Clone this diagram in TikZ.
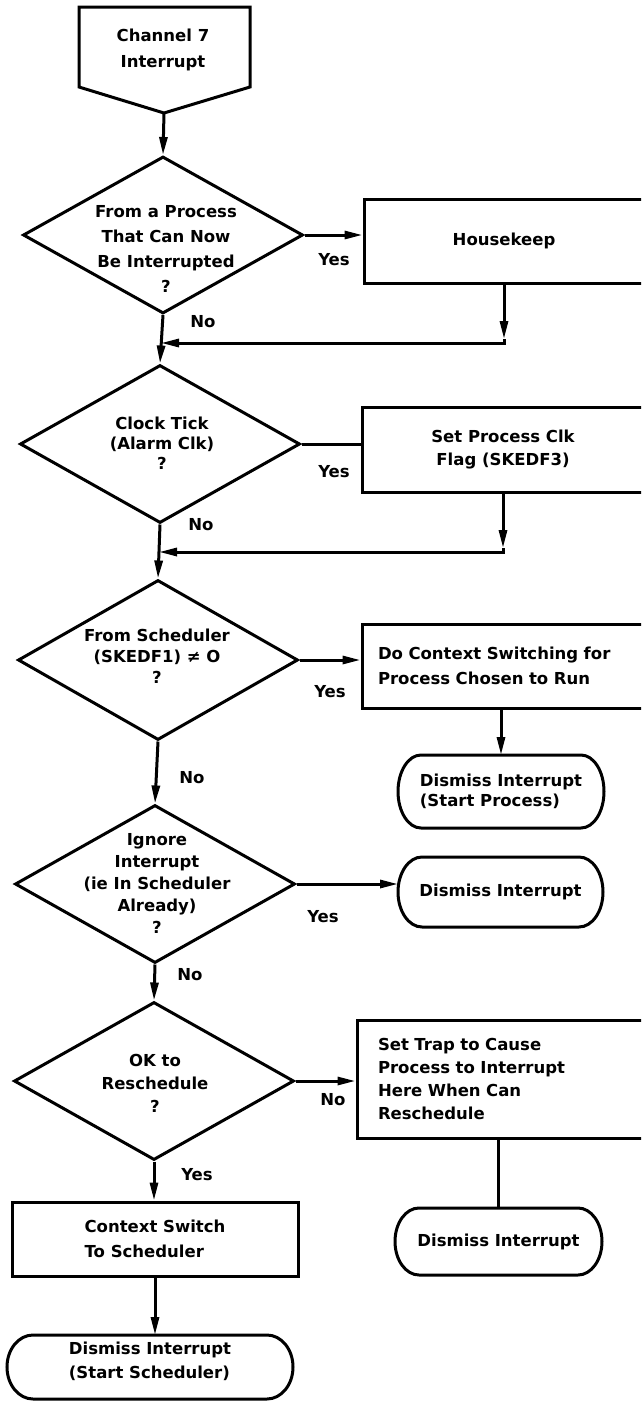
\documentclass[tikz,border=0pt]{standalone}
\usepackage{fontspec}
\setmainfont{DejaVu Sans}
\usetikzlibrary{arrows.meta,shapes.geometric,calc}
\newcommand{\lsp}[1]{\fontsize{16.5}{#1}\selectfont}
% outline of a terminal node: straight top and bottom, half-ellipse ends
% #1 node name, #2 depth of the end curve, #3 half of the node height
\newcommand{\termoutline}[3]{%
  \draw[line] ($(#1.north west)+(#2pt,0)$) -- ($(#1.north east)+(-#2pt,0)$)
    arc[start angle=90,end angle=-90,x radius=#2pt,y radius=#3pt]
    -- ($(#1.south west)+(#2pt,0)$)
    arc[start angle=270,end angle=90,x radius=#2pt,y radius=#3pt] -- cycle;}

\begin{document}
\begin{tikzpicture}[x=1pt,y=-1pt,
  line/.style={line width=3pt},
  arr/.style={-{Triangle[length=18pt,width=8pt]}},
  dia/.style={diamond,draw,line width=3pt,minimum width=280pt,minimum height=158pt,inner sep=0pt},
  txt/.style={font=\bfseries\lsp{#1},align=center,inner sep=0pt},
  txt/.default=23,
  box/.style={rectangle,draw,line width=3pt,inner ysep=0pt,font=\bfseries\lsp{23}},
  term/.style={rectangle,outer sep=0pt,inner sep=0pt,align=left,font=\bfseries\lsp{#1}},
  term/.default=23]

\useasboundingbox (0,0) rectangle (641,1401);
\clip (0,0) rectangle (641,1401);

% entry connector
\node[txt=26] (ch) at (163,50) {Channel 7\\Interrupt};
\draw[line] (79,7) -- (250,7) -- (250,87) -- (164,113) -- (79,87) -- cycle;
\coordinate (chtip) at (164,113);

% decisions
\node[dia,minimum height=157pt] (d1) at (163,235) {};
\node[txt=25.3] (d1t) at (166,249) {From a Process\\That Can Now\\Be Interrupted\\?};
\node[dia] (d2) at (160,444) {};
\node[txt=20] (d2t) at (162,443) {Clock Tick\\(Alarm Clk)\\?};
\node[dia,minimum height=160pt] (d3) at (158,660) {};
\node[txt=21] (d3t) at (157,656) {From Scheduler\\(SKEDF1) ≠ O\\?};
\node[dia] (d4) at (155,884) {};
\node[txt=22] (d4t) at (157,883) {Ignore\\Interrupt\\(ie In Scheduler\\Already)\\?};
\node[dia] (d5) at (154,1081) {};
\node[txt=23] (d5t) at (155,1083) {OK to\\Reschedule\\?};

% process boxes
\node[box,minimum width=280pt,minimum height=84pt] (hk) at (504,241) {Housekeep};
\node[box,minimum width=282pt,minimum height=85pt,align=center] (sc) at (503,449.5)
  {Set Process Clk\\Flag (SKEDF3)};
\node[box,minimum width=282pt,minimum height=84pt,text width=250pt,inner xsep=16pt,
      align=left,font=\bfseries\lsp{25}] (dc) at (503,666)
  {Do Context Switching for\\Process Chosen to Run};
\node[box,minimum width=287pt,minimum height=118pt,text width=245pt,inner xsep=21pt,
      align=left] (st) at (500.5,1079)
  {Set Trap to Cause\\Process to Interrupt\\Here When Can\\Reschedule};
\node[box,minimum width=286pt,minimum height=74pt,align=left,font=\bfseries\lsp{25}]
  (cs) at (155,1239) {Context Switch\\To Scheduler};

% terminals
\node[term=20,minimum width=206pt,minimum height=73pt] (t1) at (501,791.5)
  {Dismiss Interrupt\\(Start Process)};
\node[term,minimum width=205pt,minimum height=70pt] (t2) at (500.5,892) {Dismiss Interrupt};
\node[term,minimum width=207pt,minimum height=67pt] (t3) at (498.5,1241.5) {Dismiss Interrupt};
\node[term=24,minimum width=286pt,minimum height=64pt,text depth=13pt] (t4) at (150,1367)
  {Dismiss Interrupt\\(Start Scheduler)};
\termoutline{t1}{23}{36.5}
\termoutline{t2}{24}{35}
\termoutline{t3}{24}{33.5}
\termoutline{t4}{26}{32}

% branch labels
\node[txt] (y1) at (334,260) {Yes};
\node[txt] (n1) at (203,322) {No};
\node[txt] (y2) at (334,472) {Yes};
\node[txt] (n2) at (201,525) {No};
\node[txt] (y3) at (330,692) {Yes};
\node[txt] (n3) at (192,778) {No};
\node[txt] (y4) at (323,917) {Yes};
\node[txt] (n4) at (190,975) {No};
\node[txt] (n5) at (333,1100) {No};
\node[txt] (y5) at (197,1175) {Yes};

% junction points on the main line
\coordinate (c1) at (504,343);
\coordinate (j1) at (161,343);
\coordinate (c2) at (503,552);
\coordinate (j2) at (159,552);

% connectors
\draw[line,arr] (chtip) -- (d1.north);
\draw[line,arr] (d1.east) -- (d1.east -| hk.west);
\draw[line,arr] (hk.south) -- ($(c1)+(0,-4)$);
\draw[line,arr] ($(c1)+(0,-4)$) -- (c1) -- (j1);
\draw[line,arr] (d1.south) -- (d2.north);

\draw[line] (d2.east) -- (d2.east -| sc.west);
\draw[line,arr] (sc.south) -- ($(c2)+(0,-4)$);
\draw[line,arr] ($(c2)+(0,-4)$) -- (c2) -- (j2);
\draw[line,arr] (d2.south) -- (d3.north);

\draw[line,arr] (d3.east) -- (d3.east -| dc.west);
\draw[line,arr] (t1.north |- dc.south) -- (t1.north);
\draw[line,arr] (d3.south) -- (d4.north);

\draw[line,arr] (d4.east) -- (d4.east -| t2.west);
\draw[line,arr] (d4.south) -- (d5.north);

\draw[line,arr] (d5.east) -- (d5.east -| st.west);
\draw[line] (t3.north |- st.south) -- (t3.north);
\draw[line,arr] (d5.south) -- (d5.south |- cs.north);
\draw[line,arr] (cs.south) -- (cs.south |- t4.north);

\end{tikzpicture}
\end{document}
